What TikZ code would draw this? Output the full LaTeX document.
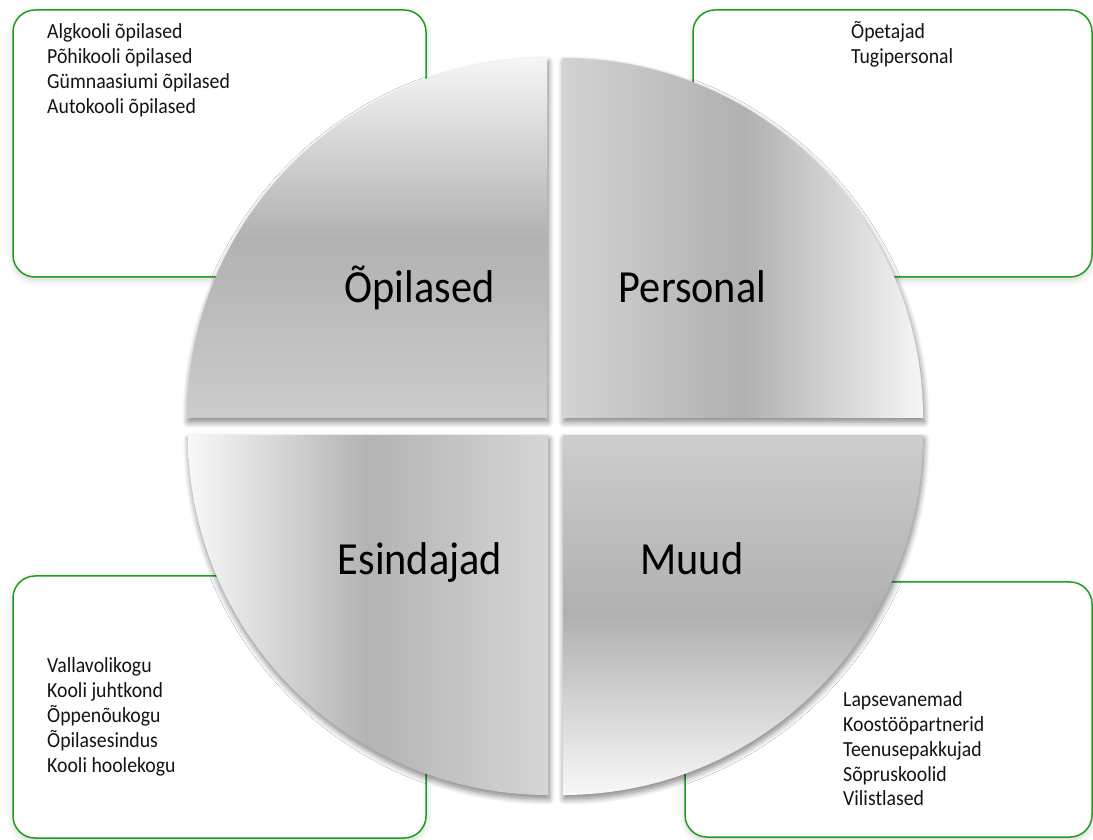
\documentclass[tikz,border=0pt]{standalone}
\usepackage{fontspec}
\setmainfont[FakeStretch=0.92]{Carlito}
\usetikzlibrary{shadows.blur}
\definecolor{boxgreen}{RGB}{30,158,30}
\definecolor{txt}{RGB}{20,20,20}
\definecolor{gA}{RGB}{246,246,246}
\definecolor{gB}{RGB}{177,177,177}
\definecolor{gC}{RGB}{204,204,204}
\definecolor{gD}{RGB}{211,211,211}
\definecolor{gE}{RGB}{176,176,176}
\definecolor{gF}{RGB}{248,248,248}
\definecolor{gG}{RGB}{179,179,179}
\definecolor{gH}{RGB}{213,213,213}
\definecolor{gI}{RGB}{205,205,205}
\begin{document}
\begin{tikzpicture}[x=1pt,y=1pt,
  listbox/.style={draw=boxgreen, line width=1.5pt, fill=white, rounded corners=22pt,
    blur shadow={shadow xshift=0pt, shadow yshift=-3pt, shadow blur radius=6pt, shadow opacity=18}},
  sector/.style={blur shadow={shadow xshift=1pt, shadow yshift=-4pt, shadow blur radius=6pt, shadow opacity=50, shadow blur steps=8}},
  item/.style={anchor=base west, inner sep=0pt, font=\fontsize{21.5}{25}\selectfont, text=txt},
  big/.style={anchor=base, inner sep=0pt, font=\fontsize{46}{50}\selectfont, text=black}]
\useasboundingbox (0,0) rectangle (1093,839);
% boxes
\path[listbox] (13,562) rectangle (426,829);
\path[listbox] (693,562) rectangle (1092,829);
\path[listbox] (13,1) rectangle (426,263);
\path[listbox] (685,2) rectangle (1092,257);
% sectors
\path[sector, top color=gA, bottom color=gC, middle color=gB]
  (547,421) -- ++(-360,0) arc[start angle=180, end angle=90, radius=360] -- cycle;
\path[sector, left color=gD, right color=gA, middle color=gE]
  (563,421) -- ++(0,360) arc[start angle=90, end angle=0, radius=360] -- cycle;
\path[sector, left color=gF, right color=gH, middle color=gG]
  (548,404) -- ++(-360,0) arc[start angle=180, end angle=270, radius=360] -- cycle;
\path[sector, top color=gI, bottom color=gF, middle color=gE]
  (563,404) -- ++(360,0) arc[start angle=0, end angle=-90, radius=360] -- cycle;
% big labels
\node[big] (opilased) at (419.5,536) {Õpilased};
\node[big] (personal) at (692.5,536) {Personal};
\node[big] (esindajad) at (420,264) {Esindajad};
\node[big] (muud) at (692,264) {Muud};
% top-left list
\node[item] (a1) at (47,800) {Algkooli õpilased};
\node[item] (a2) at (47,775) {Põhikooli õpilased};
\node[item] (a3) at (47,750) {Gümnaasiumi õpilased};
\node[item] (a4) at (47,725) {Autokooli õpilased};
% top-right list
\node[item] (b1) at (851,800) {Õpetajad};
\node[item] (b2) at (851,775) {Tugipersonal};
% bottom-left list
\node[item] (c1) at (47,167) {Vallavolikogu};
\node[item] (c2) at (47,142) {Kooli juhtkond};
\node[item] (c3) at (47,117) {Õppenõukogu};
\node[item] (c4) at (47,92) {Õpilasesindus};
\node[item] (c5) at (47,67) {Kooli hoolekogu};
% bottom-right list
\node[item] (d1) at (843,133) {Lapsevanemad};
\node[item] (d2) at (843,108) {Koostööpartnerid};
\node[item] (d3) at (843,83) {Teenusepakkujad};
\node[item] (d4) at (843,58) {Sõpruskoolid};
\node[item] (d5) at (843,34) {Vilistlased};
\end{tikzpicture}
\end{document}
